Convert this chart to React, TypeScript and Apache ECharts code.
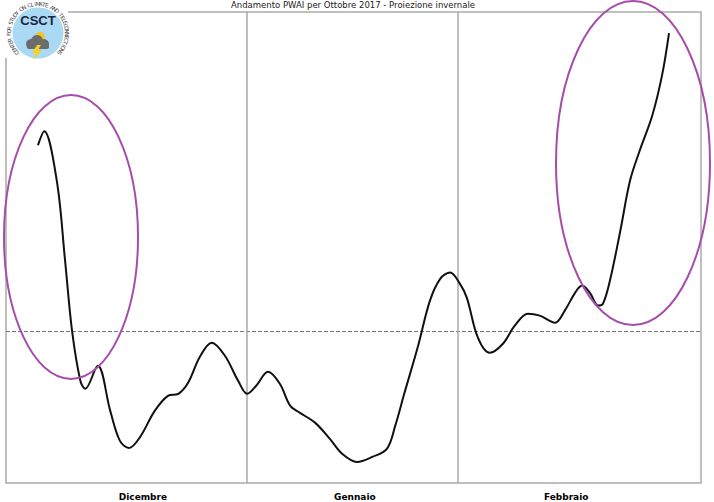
import React, { useEffect, useRef } from "react";
import * as echarts from "echarts";

const titleText = "Andamento PWAI per Ottobre 2017 - Proiezione invernale";
const monthLabels = ["Dicembre", "Gennaio", "Febbraio"];
const monthLabelPos = [19.7, 50.2, 80.6];
const monthBoundaries = [34.7, 65.0];
const referenceLevel = 0;
const logoTitle = "CSCT";
const logoRingText = "CENTER FOR STUDY ON CLIMATE AND TELECONNECTIONS";

const xValues = [
  4.6, 5.5, 7.3, 8.5, 9.5, 10.7, 11.4, 13.2, 15.0, 16.4, 17.7, 19.3, 21.4, 23.3,
  24.8, 26.2, 27.9, 29.6, 31.5, 33.4, 34.7, 36.0, 37.7, 39.4, 40.9, 42.3, 44.5,
  46.6, 48.4, 50.5, 52.7, 54.8, 56.0, 57.3, 59.3, 61.0, 62.5, 63.9, 65.3, 66.3,
  67.9, 69.6, 71.5, 73.2, 75.1, 76.8, 79.0, 80.4, 81.9, 82.9, 84.0, 85.2, 85.9,
  86.9, 88.4, 89.8, 91.2, 93.0, 94.4, 95.4,
];
const pwai = [
  1.86, 2.0, 1.51, 0.71, 0.01, -0.49, -0.57, -0.34, -0.79, -1.09, -1.16, -1.05,
  -0.79, -0.64, -0.62, -0.51, -0.25, -0.11, -0.24, -0.49, -0.62, -0.54, -0.4,
  -0.52, -0.74, -0.81, -0.91, -1.07, -1.22, -1.3, -1.25, -1.17, -0.94, -0.62,
  -0.14, 0.31, 0.53, 0.59, 0.48, 0.34, -0.06, -0.21, -0.12, 0.06, 0.18, 0.16,
  0.09, 0.21, 0.39, 0.46, 0.39, 0.26, 0.28, 0.51, 1.01, 1.51, 1.81, 2.16, 2.56,
  2.98,
];

function buildLogo() {
  const cx = 38;
  const cy = 33;
  const R = 29;
  const chars = logoRingText.split("");
  const span = (266 * Math.PI) / 180;
  const start = -span / 2;
  const step = span / (chars.length - 1);
  const ring = chars.map((ch, i) => {
    const t = start + i * step;
    return {
      type: "text",
      x: cx + R * Math.sin(t),
      y: cy - R * Math.cos(t),
      rotation: -t,
      style: {
        text: ch,
        fontSize: 5.5,
        fontFamily: "DejaVu Sans",
        fill: "#444",
        align: "center",
        verticalAlign: "middle",
      },
    };
  });
  return {
    type: "group",
    z: 100,
    children: [
      { type: "rect", shape: { x: 0, y: 0, width: 68, height: 58 }, style: { fill: "#fff" } },
      { type: "circle", shape: { cx, cy, r: 25.5 }, style: { fill: "#a9d9f3" } },
      ...ring,
      {
        type: "text",
        x: cx,
        y: 20,
        style: {
          text: logoTitle,
          fontSize: 13,
          fontWeight: "bold",
          fontFamily: "Liberation Sans",
          fill: "#1c2340",
          align: "center",
          verticalAlign: "middle",
        },
      },
      { type: "circle", shape: { cx: 40, cy: 37, r: 5 }, style: { fill: "#f5c518" } },
      { type: "circle", shape: { cx: 31, cy: 44, r: 5 }, style: { fill: "#6c6c6c" } },
      { type: "circle", shape: { cx: 37, cy: 41, r: 6 }, style: { fill: "#6c6c6c" } },
      { type: "circle", shape: { cx: 44, cy: 44, r: 5 }, style: { fill: "#6c6c6c" } },
      { type: "rect", shape: { x: 27, y: 44, width: 22, height: 5, r: 2 }, style: { fill: "#6c6c6c" } },
      {
        type: "polygon",
        shape: { points: [[37, 45], [32, 53], [36, 53], [33, 60], [42, 50], [38, 50], [41, 45]] },
        style: { fill: "#f7d117" },
      },
    ],
  };
}

export default function App() {
  const ref = useRef<HTMLDivElement>(null);
  useEffect(() => {
    if (!ref.current) return;
    const chart = echarts.init(ref.current, undefined, { renderer: "svg" });
    const option: any = {
      animation: false,
      backgroundColor: "#fff",
      grid: {
        left: 6,
        right: 13,
        top: 12,
        bottom: 19,
        show: true,
        borderColor: "#aaaaaa",
        borderWidth: 1.5,
        backgroundColor: "transparent",
      },
      xAxis: {
        type: "value",
        min: 0,
        max: 100,
        axisLine: { show: false },
        axisTick: { show: false },
        splitLine: { show: false },
        axisLabel: {
          customValues: monthLabelPos,
          formatter: (v: number) => {
            let best = 0;
            monthLabelPos.forEach((p, i) => {
              if (Math.abs(p - v) < Math.abs(monthLabelPos[best] - v)) best = i;
            });
            return monthLabels[best];
          },
          fontWeight: "bold",
          fontSize: 9,
          fontFamily: "DejaVu Sans",
          color: "#000",
          margin: 9,
        },
      },
      yAxis: {
        type: "value",
        min: -1.51,
        max: 3.19,
        axisLine: { show: false },
        axisTick: { show: false },
        axisLabel: { show: false },
        splitLine: { show: false },
      },
      series: [
        {
          type: "line",
          data: xValues.map((x, i) => [x, pwai[i]]),
          smooth: 0.35,
          showSymbol: false,
          lineStyle: { color: "#111", width: 2 },
          z: 5,
          markLine: {
            silent: true,
            symbol: "none",
            label: { show: false },
            data: [
              { yAxis: referenceLevel, lineStyle: { type: [4, 2], color: "#777", width: 1.2 } },
              ...monthBoundaries.map((x) => ({
                xAxis: x,
                lineStyle: { type: "solid", color: "#aaaaaa", width: 1.5 },
              })),
            ],
          },
        },
      ],
      graphic: [
        {
          type: "text",
          x: 353,
          y: 5,
          style: {
            text: titleText,
            fontSize: 8.5,
            fontFamily: "DejaVu Sans",
            fill: "#222",
            align: "center",
            verticalAlign: "middle",
          },
        },
        {
          type: "ellipse",
          z: 50,
          shape: { cx: 71, cy: 237, rx: 67, ry: 142 },
          style: { fill: "none", stroke: "#a64dac", lineWidth: 2 },
        },
        {
          type: "ellipse",
          z: 50,
          shape: { cx: 633, cy: 163, rx: 77, ry: 162 },
          style: { fill: "none", stroke: "#a64dac", lineWidth: 2 },
        },
        buildLogo(),
      ],
    };
    chart.setOption(option);
    return () => chart.dispose();
  }, []);
  return (
    <div
      ref={ref}
      style={{ position: "fixed", left: 0, top: 0, width: 714, height: 502, background: "#fff" }}
    />
  );
}
